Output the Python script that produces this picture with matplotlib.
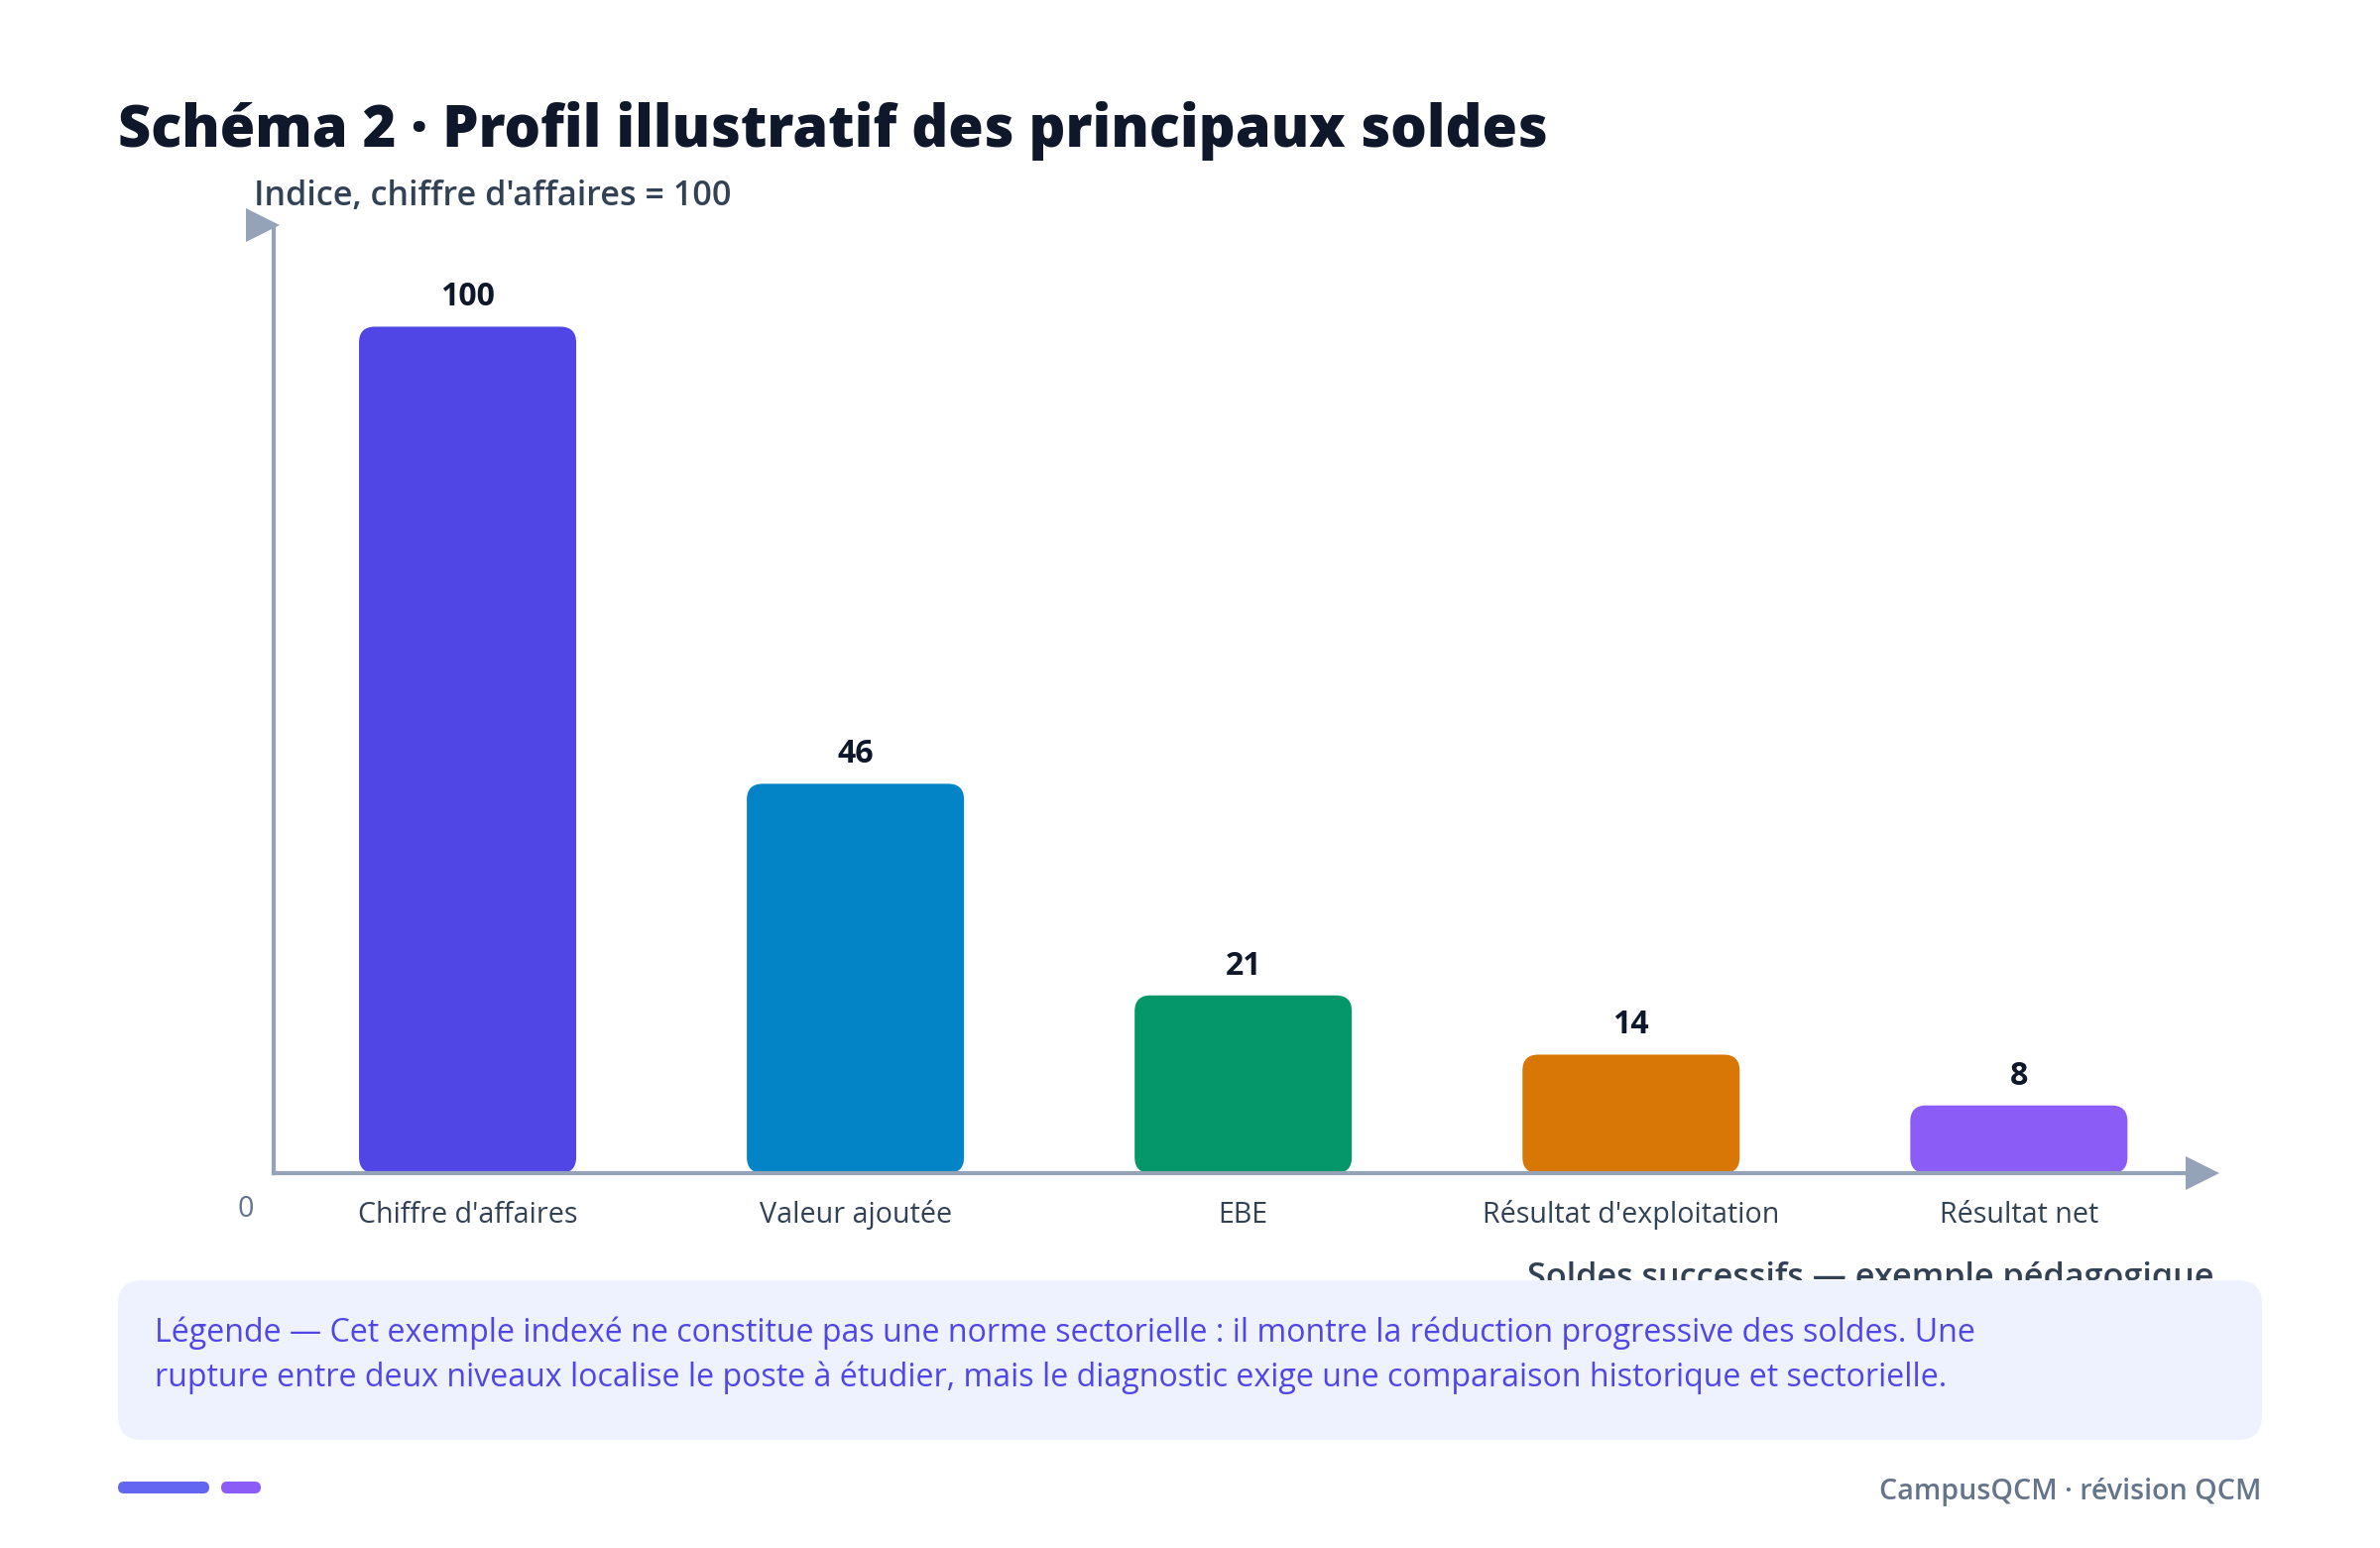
import matplotlib
matplotlib.use('Agg')
import matplotlib.pyplot as plt
from matplotlib.patches import FancyBboxPatch, Polygon

plt.rcParams['font.family'] = ['Open Sans', 'Noto Sans', 'DejaVu Sans']

# --- Data ---
categories = ["Chiffre d'affaires", "Valeur ajoutée", "EBE",
              "Résultat d'exploitation", "Résultat net"]
values = [100, 46, 21, 14, 8]
bar_colors = ['#4f46e5', '#0284c7', '#059669', '#d97706', '#8b5cf6']

title = "Schéma 2 · Profil illustratif des principaux soldes"
y_label = "Indice, chiffre d'affaires = 100"
x_label = "Soldes successifs — exemple pédagogique"
legend_lines = [
    "Légende — Cet exemple indexé ne constitue pas une norme sectorielle : "
    "il montre la réduction progressive des soldes. Une",
    "rupture entre deux niveaux localise le poste à étudier, mais le "
    "diagnostic exige une comparaison historique et sectorielle.",
]
footer = "CampusQCM · révision QCM"

AXIS = '#94a3b8'
W, H = 2400, 1561

fig = plt.figure(figsize=(W / 100, H / 100), dpi=100, facecolor='white')
renderer = fig.canvas.get_renderer()


def fit_width(t, target):
    # scale font so the text spans the same width as in the reference
    w = t.get_window_extent(renderer).width
    t.set_fontsize(t.get_fontsize() * target / w)
    return t.get_fontsize()


# --- Chart axes ---
ax = fig.add_axes([276 / W, 1 - 1183 / H, (2204 - 276) / W, (1183 - 227) / H])
ax.set_facecolor('none')
ax.set_xlim(-0.5, 4.43)
ax.set_ylim(0, 112)
for s in ['top', 'right']:
    ax.spines[s].set_visible(False)
for s in ['left', 'bottom']:
    ax.spines[s].set_color(AXIS)
    ax.spines[s].set_linewidth(3)
ax.set_xticks([])
ax.set_yticks([])

xs = list(range(len(values)))
bars = ax.bar(xs, values, width=0.56, color=bar_colors)

# rounded bars
fig.canvas.draw()
p0 = ax.transData.transform((0, 0))
px_x = ax.transData.transform((1, 0))[0] - p0[0]
px_y = ax.transData.transform((0, 1))[1] - p0[1]
r_px = 16
for b in bars:
    rb = FancyBboxPatch((b.get_x(), b.get_y()), b.get_width(), b.get_height(),
                        boxstyle=f"round,pad=0,rounding_size={r_px / px_x}",
                        mutation_aspect=px_x / px_y,
                        facecolor=b.get_facecolor(), edgecolor='none', zorder=2)
    ax.add_patch(rb)
    b.remove()

# value labels
for i, v in enumerate(values):
    t = ax.annotate(str(v), xy=(i, v), xytext=(0, 21), textcoords='offset pixels',
                    ha='center', va='baseline', fontsize=23, fontweight='bold',
                    color='#0f172a')
    if i == 0:
        val_fs = fit_width(t, 55)
    else:
        t.set_fontsize(val_fs)

# category labels
cat_fs = None
for i, c in enumerate(categories):
    t = ax.annotate(c, xy=(i, 0), xytext=(0, -50), textcoords='offset pixels',
                    ha='center', va='baseline', fontsize=19, color='#334155')
    if i == 0:
        cat_fs = fit_width(t, 221)
    else:
        t.set_fontsize(cat_fs)

ax.annotate('0', xy=(0, 0), xycoords=('axes fraction', 'data'), xytext=(-28, -44),
            textcoords='offset pixels', ha='center', va='baseline',
            fontsize=cat_fs, color='#64748b')

# --- Figure texts ---
t = fig.text(119 / W, 1 - 148 / H, title, ha='left', va='baseline',
             fontsize=40, fontweight='heavy', color='#0f172a')
fit_width(t, 1442)

t = fig.text(256 / W, 1 - 207 / H, y_label, ha='left', va='baseline',
             fontsize=21, fontweight='semibold', color='#334155')
fit_width(t, 480)

t = fig.text(2232 / W, 1 - 1298 / H, x_label, ha='right', va='baseline',
             fontsize=24, fontweight='semibold', color='#334155', zorder=3)
fit_width(t, 695)

# --- Overlay (pixel coordinates) for box, arrows, footer ---
ov = fig.add_axes([0, 0, 1, 1], zorder=5)
ov.set_xlim(0, W)
ov.set_ylim(H, 0)
ov.axis('off')
ov.patch.set_alpha(0)

ov.add_patch(Polygon([(248, 210), (248, 244), (282, 227)], closed=True,
                     facecolor=AXIS, edgecolor='none'))
ov.add_patch(Polygon([(2204, 1166), (2204, 1200), (2238, 1183)], closed=True,
                     facecolor=AXIS, edgecolor='none'))

ov.add_patch(FancyBboxPatch((119, 1291), 2162, 161,
                            boxstyle="round,pad=0,rounding_size=24",
                            facecolor='#eef2ff', edgecolor='none'))
t1 = ov.text(156, 1353, legend_lines[0], ha='left', va='baseline',
             fontsize=23, color='#4f46e5')
leg_fs = fit_width(t1, 1837)
ov.text(156, 1398, legend_lines[1], ha='left', va='baseline',
        fontsize=leg_fs, color='#4f46e5')

ov.add_patch(FancyBboxPatch((119, 1494), 92, 12,
                            boxstyle="round,pad=0,rounding_size=6",
                            facecolor='#6366f1', edgecolor='none'))
ov.add_patch(FancyBboxPatch((223, 1494), 40, 12,
                            boxstyle="round,pad=0,rounding_size=6",
                            facecolor='#8b5cf6', edgecolor='none'))
t = ov.text(2280, 1512, footer, ha='right', va='baseline', fontsize=19,
            fontweight='semibold', color='#64748b')
fit_width(t, 384)

fig.savefig('out.png', dpi=100, facecolor='white')
